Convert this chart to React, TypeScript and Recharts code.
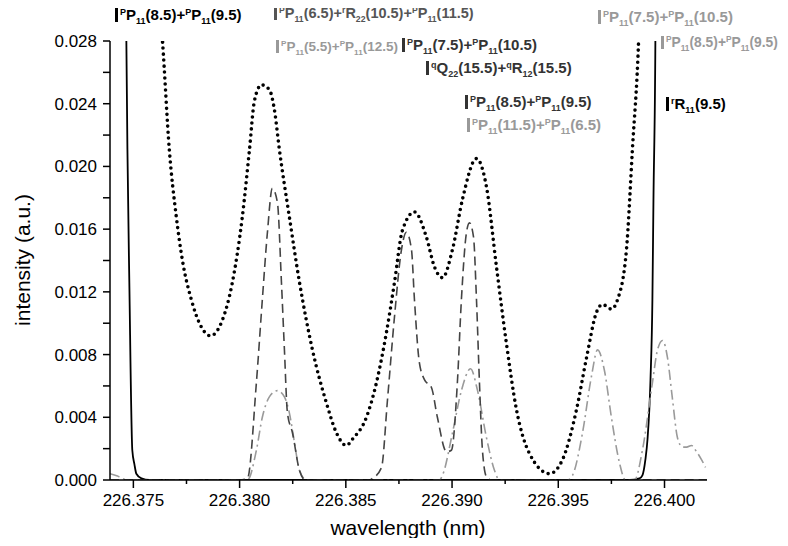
import React from "react"
import { LineChart, Line, XAxis, YAxis } from "recharts"

const FONT = '"Liberation Sans", Arial, Helvetica, sans-serif'

// values: wavelength (nm) and intensity (a.u.)
const totalWl = [
  226.3761, 226.37637, 226.37669, 226.37702, 226.37731, 226.37773, 226.37811, 226.37863, 226.37919,
  226.37966, 226.38013, 226.38046, 226.3807, 226.38103, 226.3814, 226.38164, 226.38187, 226.38234,
  226.38282, 226.38343, 226.38409, 226.38456, 226.38503, 226.38531, 226.38597, 226.38644, 226.38691,
  226.38729, 226.38766, 226.38823, 226.38879, 226.38917, 226.38955, 226.39002, 226.39049, 226.39115,
  226.39162, 226.39209, 226.39256, 226.39303, 226.39364, 226.39459, 226.3952, 226.39586, 226.39633,
  226.3968, 226.39708, 226.3975, 226.39779, 226.39821, 226.39849, 226.39878, 226.3989,
]
const totalI = [
  0.0325, 0.028, 0.0211, 0.0168, 0.014, 0.0115, 0.01, 0.0092, 0.0102,
  0.0126, 0.0168, 0.021, 0.0242, 0.0252, 0.0249, 0.0236, 0.0211, 0.0168,
  0.0126, 0.0083, 0.0049, 0.003, 0.0022, 0.0026, 0.004, 0.0062, 0.0094,
  0.0126, 0.0159, 0.0171, 0.0155, 0.0136, 0.0129, 0.0147, 0.0179, 0.0205,
  0.0187, 0.0136, 0.0087, 0.0045, 0.0017, 0.0004, 0.0013, 0.0045, 0.0078,
  0.0107, 0.0112, 0.0109, 0.0115, 0.0147, 0.0211, 0.028, 0.033,
]

const bandAWl = [
  226.3739, 226.38, 226.38037, 226.38079, 226.38107, 226.38131, 226.38154, 226.38178, 226.38197,
  226.38211, 226.38225, 226.38249, 226.38282, 226.3831, 226.38611, 226.38625, 226.38668, 226.38696,
  226.38729, 226.38762, 226.38785, 226.38809, 226.38823, 226.38846, 226.3887, 226.38903, 226.38931,
  226.38974, 226.38997, 226.39025, 226.39044, 226.39068, 226.39082, 226.39101, 226.39115, 226.39129,
  226.39143, 226.39162, 226.39185, 226.402,
]
const bandAI = [
  0, 0, 0.0001, 0.0062, 0.0115, 0.0158, 0.0186, 0.0177, 0.0126,
  0.0083, 0.0043, 0.003, 0.0006, 0, 0, 0.0001, 0.0008, 0.0051,
  0.0104, 0.0147, 0.0158, 0.0147, 0.0115, 0.0075, 0.0064, 0.0059, 0.004,
  0.0018, 0.0019, 0.0062, 0.0115, 0.0158, 0.0164, 0.0155, 0.0115, 0.0062,
  0.0019, 0.0002, 0, 0,
]

const bandBWl = [
  226.3739, 226.37425, 226.37472, 226.38037, 226.38079, 226.38107, 226.3814, 226.38178, 226.38211,
  226.38234, 226.38258, 226.38282, 226.38315, 226.38941, 226.38955, 226.39002, 226.39044, 226.39087,
  226.3912, 226.39162, 226.392, 226.39223, 226.39543, 226.39567, 226.39614, 226.39656, 226.39685,
  226.39717, 226.3975, 226.39788, 226.39816, 226.39859, 226.39896, 226.39943, 226.39967, 226.39991,
  226.40014, 226.40038, 226.40061, 226.40085, 226.40104, 226.40127, 226.40151, 226.40174, 226.40193,
]
const bandBI = [
  0.0004, 0.00025, 0, 0, 0.0019, 0.004, 0.0053, 0.0057, 0.0053,
  0.0043, 0.0024, 0.0006, 0, 0, 0.0003, 0.003, 0.0057, 0.0071,
  0.0057, 0.0027, 0.0006, 0, 0, 0.0003, 0.003, 0.0066, 0.0083,
  0.007, 0.004, 0.0011, 0, 0, 0.0019, 0.0062, 0.0083, 0.0089,
  0.0078, 0.0051, 0.0027, 0.0021, 0.0021, 0.0022, 0.0018, 0.0013, 0.0008,
]

const strongWl = [
  226.37453, 226.37467, 226.37472, 226.37481, 226.37495, 226.37505, 226.37514, 226.37538, 226.37575,
  226.39835, 226.39882, 226.39896, 226.3991, 226.3992, 226.39934, 226.39943, 226.39948, 226.39957, 226.3996,
]
const strongI = [
  0.04, 0.028, 0.0211, 0.0126, 0.0019, 0.001, 0.0004, 0.0001, 0,
  0, 0.0001, 0.0003, 0.0013, 0.0026, 0.0064, 0.0115, 0.0179, 0.028, 0.04,
]

const xTicks = [
  226.375, 226.3775, 226.38, 226.3825, 226.385, 226.3875, 226.39, 226.3925, 226.395, 226.3975, 226.4,
]
const yTicks = [
  0, 0.002, 0.004, 0.006, 0.008, 0.01, 0.012, 0.014, 0.016, 0.018, 0.02, 0.022, 0.024, 0.026, 0.028,
]

// line labels: [superscript, letter, subscript, quantum number]
const labelTerms = [
  [["P", "P", "11", "8.5"], ["P", "P", "11", "9.5"]],
  [["P", "P", "11", "6.5"], ["r", "R", "22", "10.5"], ["P", "P", "11", "11.5"]],
  [["P", "P", "11", "5.5"], ["P", "P", "11", "12.5"]],
  [["P", "P", "11", "7.5"], ["P", "P", "11", "10.5"]],
  [["q", "Q", "22", "15.5"], ["q", "R", "12", "15.5"]],
  [["P", "P", "11", "8.5"], ["P", "P", "11", "9.5"]],
  [["P", "P", "11", "11.5"], ["P", "P", "11", "6.5"]],
  [["P", "P", "11", "7.5"], ["P", "P", "11", "10.5"]],
  [["P", "P", "11", "8.5"], ["P", "P", "11", "9.5"]],
  [["r", "R", "11", "9.5"]],
]
const labelLayout = [
  { left: 107, top: -1, size: 15, color: "#000" },
  { left: 266, top: -2, size: 14.5, color: "#555" },
  { left: 268, top: 32, size: 13.5, color: "#999" },
  { left: 394, top: 29, size: 15, color: "#333" },
  { left: 418, top: 52, size: 15, color: "#333" },
  { left: 457, top: 86, size: 15, color: "#333" },
  { left: 459, top: 109, size: 15, color: "#999" },
  { left: 590, top: 1, size: 15, color: "#999" },
  { left: 653, top: 28, size: 13.8, color: "#999" },
  { left: 658, top: 88, size: 15, color: "#000" },
]

const zip = (xs: number[], ys: number[]) => xs.map((x, i) => ({ x, y: ys[i] }))

const XTick = (props: any) => {
  const { x, y, payload } = props
  const major = Math.round(payload.value * 10000) % 50 === 0
  return (
    <g>
      <line x1={x} x2={x} y1={y} y2={y + (major ? 8 : 4)} stroke="#000" strokeWidth={1.5} />
      {major && (
        <text x={x} y={y + 26} textAnchor="middle" fontSize={17} fill="#000" style={{ fontFamily: FONT }}>
          {payload.value.toFixed(3)}
        </text>
      )}
    </g>
  )
}

const YTick = (props: any) => {
  const { x, y, payload } = props
  const major = Math.round(payload.value * 1000) % 4 === 0
  return (
    <g>
      <line x1={x - 7} x2={x} y1={y} y2={y} stroke="#000" strokeWidth={1.5} />
      {major && (
        <text x={x - 13} y={y + 6} textAnchor="end" fontSize={17} fill="#000" style={{ fontFamily: FONT }}>
          {payload.value.toFixed(3)}
        </text>
      )}
    </g>
  )
}

const LineLabel = ({ terms, color }: { terms: string[][]; color: string }) => (
  <span>
    <span
      style={{
        display: "inline-block",
        width: 3,
        height: "0.95em",
        background: color,
        marginRight: 2,
        verticalAlign: "-0.12em",
      }}
    />
    {terms.map((t, i) => (
      <span key={i}>
        {i > 0 && "+"}
        <span style={{ fontSize: "0.6em", verticalAlign: "0.6em" }}>{t[0]}</span>
        {t[1]}
        <span style={{ fontSize: "0.6em", verticalAlign: "-0.45em" }}>{t[2]}</span>({t[3]})
      </span>
    ))}
  </span>
)

export default function App() {
  return (
    <div style={{ position: "relative", width: 772, height: 530, fontFamily: FONT }}>
      <LineChart width={772} height={530} margin={{ top: 33, right: 73, left: 0, bottom: 0 }}>
        <XAxis
          type="number"
          dataKey="x"
          domain={[226.3739, 226.402]}
          allowDataOverflow
          ticks={xTicks}
          interval={0}
          height={58}
          tickSize={0}
          tickMargin={0}
          tickLine={false}
          tick={(p: any) => <XTick {...p} />}
          axisLine={{ stroke: "#000", strokeWidth: 1.5 }}
        />
        <YAxis
          type="number"
          dataKey="y"
          domain={[0, 0.028]}
          allowDataOverflow
          ticks={yTicks}
          interval={0}
          width={102}
          tickSize={0}
          tickMargin={0}
          tickLine={false}
          tick={(p: any) => <YTick {...p} />}
          axisLine={{ stroke: "#000", strokeWidth: 1.5 }}
        />
        <Line
          data={zip(strongWl, strongI)}
          dataKey="y"
          type="monotone"
          stroke="#000"
          strokeWidth={1.8}
          dot={false}
          activeDot={false}
          isAnimationActive={false}
        />
        <Line
          data={zip(bandBWl, bandBI)}
          dataKey="y"
          type="monotone"
          stroke="#9a9a9a"
          strokeWidth={1.6}
          strokeDasharray="10 4 2 4"
          dot={false}
          activeDot={false}
          isAnimationActive={false}
        />
        <Line
          data={zip(bandAWl, bandAI)}
          dataKey="y"
          type="monotone"
          stroke="#444"
          strokeWidth={1.6}
          strokeDasharray="9 5"
          dot={false}
          activeDot={false}
          isAnimationActive={false}
        />
        <Line
          data={zip(totalWl, totalI)}
          dataKey="y"
          type="monotone"
          stroke="#000"
          strokeWidth={3.6}
          strokeDasharray="0 6"
          strokeLinecap="round"
          dot={false}
          activeDot={false}
          isAnimationActive={false}
        />
      </LineChart>

      <div
        style={{
          position: "absolute",
          left: 15,
          top: 252,
          transform: "translate(-50%, -50%) rotate(-90deg)",
          fontSize: 21,
          whiteSpace: "nowrap",
        }}
      >
        intensity (a.u.)
      </div>
      <div
        style={{
          position: "absolute",
          left: 400,
          top: 520,
          transform: "translate(-50%, -50%)",
          fontSize: 21,
          whiteSpace: "nowrap",
        }}
      >
        wavelength (nm)
      </div>

      {labelTerms.map((terms, i) => {
        const l = labelLayout[i]
        return (
          <div
            key={i}
            style={{
              position: "absolute",
              left: l.left,
              top: l.top,
              fontSize: l.size,
              fontWeight: "bold",
              color: l.color,
              lineHeight: 1,
              whiteSpace: "nowrap",
            }}
          >
            <LineLabel terms={terms} color={l.color} />
          </div>
        )
      })}
    </div>
  )
}
